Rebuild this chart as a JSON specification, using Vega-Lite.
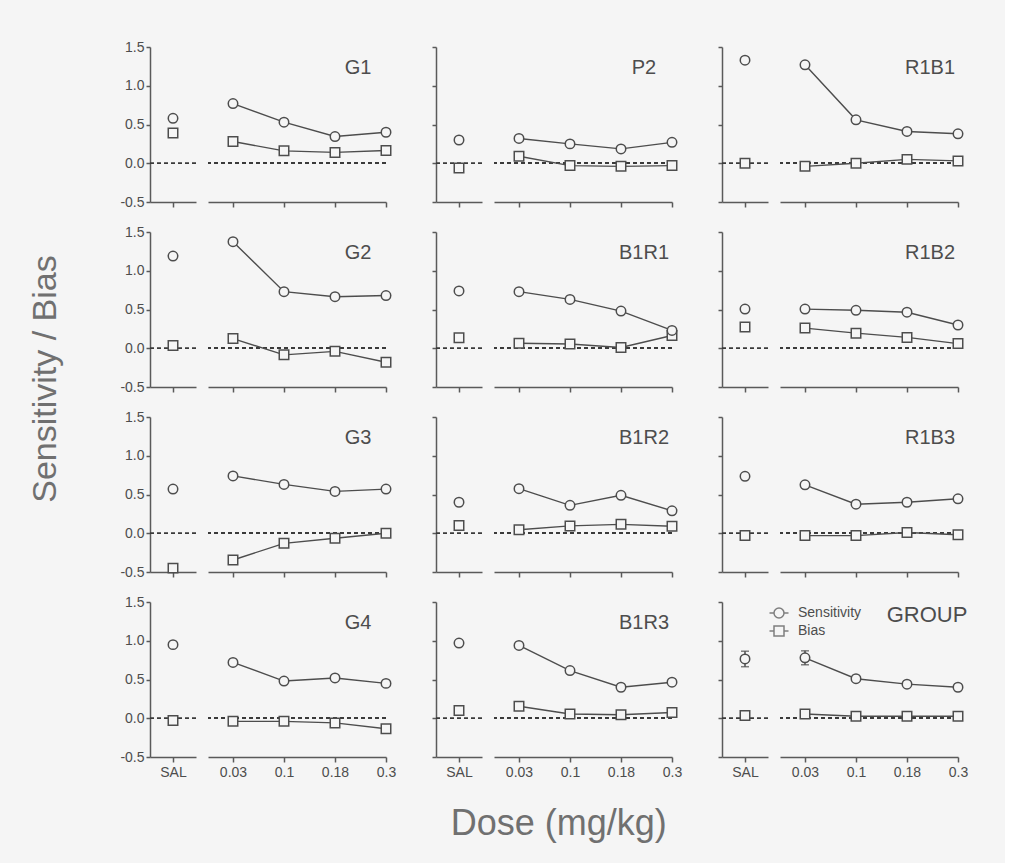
{
  "$schema": "https://vega.github.io/schema/vega-lite/v6.json",
  "background": "#f5f5f5",
  "padding": {"left": 28, "top": 40, "right": 37, "bottom": 22},
  "config": {
    "font": "Liberation Sans",
    "view": {"stroke": null},
    "axis": {"domainColor": "#5a5a5a", "tickColor": "#5a5a5a", "domainWidth": 1.5, "tickWidth": 1.5, "labelColor": "#4d4d4d", "grid": false, "labelOverlap": false},
    "axisX": {"tickSize": 5, "labelFontSize": 14, "labelPadding": 3, "labelAngle": 0},
    "axisY": {"tickSize": 4, "labelFontSize": 14, "labelPadding": 2, "tickCount": 10},
    "title": {"color": "#707070", "fontWeight": "normal"}
  },
  "datasets": {
    "sdt": [
      {"panel": "G1", "dose": "SAL", "measure": "Sensitivity", "value": 0.58},
      {"panel": "G1", "dose": "SAL", "measure": "Bias", "value": 0.39},
      {"panel": "G1", "dose": "0.03", "measure": "Sensitivity", "value": 0.77},
      {"panel": "G1", "dose": "0.03", "measure": "Bias", "value": 0.28},
      {"panel": "G1", "dose": "0.1", "measure": "Sensitivity", "value": 0.53},
      {"panel": "G1", "dose": "0.1", "measure": "Bias", "value": 0.16},
      {"panel": "G1", "dose": "0.18", "measure": "Sensitivity", "value": 0.345},
      {"panel": "G1", "dose": "0.18", "measure": "Bias", "value": 0.14},
      {"panel": "G1", "dose": "0.3", "measure": "Sensitivity", "value": 0.4},
      {"panel": "G1", "dose": "0.3", "measure": "Bias", "value": 0.165},

      {"panel": "P2", "dose": "SAL", "measure": "Sensitivity", "value": 0.3},
      {"panel": "P2", "dose": "SAL", "measure": "Bias", "value": -0.06},
      {"panel": "P2", "dose": "0.03", "measure": "Sensitivity", "value": 0.32},
      {"panel": "P2", "dose": "0.03", "measure": "Bias", "value": 0.09},
      {"panel": "P2", "dose": "0.1", "measure": "Sensitivity", "value": 0.25},
      {"panel": "P2", "dose": "0.1", "measure": "Bias", "value": -0.03},
      {"panel": "P2", "dose": "0.18", "measure": "Sensitivity", "value": 0.185},
      {"panel": "P2", "dose": "0.18", "measure": "Bias", "value": -0.04},
      {"panel": "P2", "dose": "0.3", "measure": "Sensitivity", "value": 0.27},
      {"panel": "P2", "dose": "0.3", "measure": "Bias", "value": -0.03},

      {"panel": "R1B1", "dose": "SAL", "measure": "Sensitivity", "value": 1.33},
      {"panel": "R1B1", "dose": "SAL", "measure": "Bias", "value": 0.0},
      {"panel": "R1B1", "dose": "0.03", "measure": "Sensitivity", "value": 1.27},
      {"panel": "R1B1", "dose": "0.03", "measure": "Bias", "value": -0.04},
      {"panel": "R1B1", "dose": "0.1", "measure": "Sensitivity", "value": 0.56},
      {"panel": "R1B1", "dose": "0.1", "measure": "Bias", "value": 0.0},
      {"panel": "R1B1", "dose": "0.18", "measure": "Sensitivity", "value": 0.41},
      {"panel": "R1B1", "dose": "0.18", "measure": "Bias", "value": 0.05},
      {"panel": "R1B1", "dose": "0.3", "measure": "Sensitivity", "value": 0.38},
      {"panel": "R1B1", "dose": "0.3", "measure": "Bias", "value": 0.03},

      {"panel": "G2", "dose": "SAL", "measure": "Sensitivity", "value": 1.19},
      {"panel": "G2", "dose": "SAL", "measure": "Bias", "value": 0.035},
      {"panel": "G2", "dose": "0.03", "measure": "Sensitivity", "value": 1.375},
      {"panel": "G2", "dose": "0.03", "measure": "Bias", "value": 0.125},
      {"panel": "G2", "dose": "0.1", "measure": "Sensitivity", "value": 0.73},
      {"panel": "G2", "dose": "0.1", "measure": "Bias", "value": -0.085},
      {"panel": "G2", "dose": "0.18", "measure": "Sensitivity", "value": 0.665},
      {"panel": "G2", "dose": "0.18", "measure": "Bias", "value": -0.04},
      {"panel": "G2", "dose": "0.3", "measure": "Sensitivity", "value": 0.68},
      {"panel": "G2", "dose": "0.3", "measure": "Bias", "value": -0.18},

      {"panel": "B1R1", "dose": "SAL", "measure": "Sensitivity", "value": 0.74},
      {"panel": "B1R1", "dose": "SAL", "measure": "Bias", "value": 0.135},
      {"panel": "B1R1", "dose": "0.03", "measure": "Sensitivity", "value": 0.73},
      {"panel": "B1R1", "dose": "0.03", "measure": "Bias", "value": 0.065},
      {"panel": "B1R1", "dose": "0.1", "measure": "Sensitivity", "value": 0.63},
      {"panel": "B1R1", "dose": "0.1", "measure": "Bias", "value": 0.055},
      {"panel": "B1R1", "dose": "0.18", "measure": "Sensitivity", "value": 0.48},
      {"panel": "B1R1", "dose": "0.18", "measure": "Bias", "value": 0.01},
      {"panel": "B1R1", "dose": "0.3", "measure": "Sensitivity", "value": 0.23},
      {"panel": "B1R1", "dose": "0.3", "measure": "Bias", "value": 0.165},

      {"panel": "R1B2", "dose": "SAL", "measure": "Sensitivity", "value": 0.505},
      {"panel": "R1B2", "dose": "SAL", "measure": "Bias", "value": 0.275},
      {"panel": "R1B2", "dose": "0.03", "measure": "Sensitivity", "value": 0.505},
      {"panel": "R1B2", "dose": "0.03", "measure": "Bias", "value": 0.26},
      {"panel": "R1B2", "dose": "0.1", "measure": "Sensitivity", "value": 0.49},
      {"panel": "R1B2", "dose": "0.1", "measure": "Bias", "value": 0.195},
      {"panel": "R1B2", "dose": "0.18", "measure": "Sensitivity", "value": 0.465},
      {"panel": "R1B2", "dose": "0.18", "measure": "Bias", "value": 0.14},
      {"panel": "R1B2", "dose": "0.3", "measure": "Sensitivity", "value": 0.3},
      {"panel": "R1B2", "dose": "0.3", "measure": "Bias", "value": 0.06},

      {"panel": "G3", "dose": "SAL", "measure": "Sensitivity", "value": 0.57},
      {"panel": "G3", "dose": "SAL", "measure": "Bias", "value": -0.45},
      {"panel": "G3", "dose": "0.03", "measure": "Sensitivity", "value": 0.74},
      {"panel": "G3", "dose": "0.03", "measure": "Bias", "value": -0.345},
      {"panel": "G3", "dose": "0.1", "measure": "Sensitivity", "value": 0.63},
      {"panel": "G3", "dose": "0.1", "measure": "Bias", "value": -0.13},
      {"panel": "G3", "dose": "0.18", "measure": "Sensitivity", "value": 0.54},
      {"panel": "G3", "dose": "0.18", "measure": "Bias", "value": -0.065},
      {"panel": "G3", "dose": "0.3", "measure": "Sensitivity", "value": 0.57},
      {"panel": "G3", "dose": "0.3", "measure": "Bias", "value": 0.0},

      {"panel": "B1R2", "dose": "SAL", "measure": "Sensitivity", "value": 0.4},
      {"panel": "B1R2", "dose": "SAL", "measure": "Bias", "value": 0.1},
      {"panel": "B1R2", "dose": "0.03", "measure": "Sensitivity", "value": 0.575},
      {"panel": "B1R2", "dose": "0.03", "measure": "Bias", "value": 0.045},
      {"panel": "B1R2", "dose": "0.1", "measure": "Sensitivity", "value": 0.36},
      {"panel": "B1R2", "dose": "0.1", "measure": "Bias", "value": 0.095},
      {"panel": "B1R2", "dose": "0.18", "measure": "Sensitivity", "value": 0.49},
      {"panel": "B1R2", "dose": "0.18", "measure": "Bias", "value": 0.115},
      {"panel": "B1R2", "dose": "0.3", "measure": "Sensitivity", "value": 0.29},
      {"panel": "B1R2", "dose": "0.3", "measure": "Bias", "value": 0.09},

      {"panel": "R1B3", "dose": "SAL", "measure": "Sensitivity", "value": 0.735},
      {"panel": "R1B3", "dose": "SAL", "measure": "Bias", "value": -0.03},
      {"panel": "R1B3", "dose": "0.03", "measure": "Sensitivity", "value": 0.625},
      {"panel": "R1B3", "dose": "0.03", "measure": "Bias", "value": -0.03},
      {"panel": "R1B3", "dose": "0.1", "measure": "Sensitivity", "value": 0.375},
      {"panel": "R1B3", "dose": "0.1", "measure": "Bias", "value": -0.03},
      {"panel": "R1B3", "dose": "0.18", "measure": "Sensitivity", "value": 0.4},
      {"panel": "R1B3", "dose": "0.18", "measure": "Bias", "value": 0.01},
      {"panel": "R1B3", "dose": "0.3", "measure": "Sensitivity", "value": 0.445},
      {"panel": "R1B3", "dose": "0.3", "measure": "Bias", "value": -0.02},

      {"panel": "G4", "dose": "SAL", "measure": "Sensitivity", "value": 0.95},
      {"panel": "G4", "dose": "SAL", "measure": "Bias", "value": -0.03},
      {"panel": "G4", "dose": "0.03", "measure": "Sensitivity", "value": 0.72},
      {"panel": "G4", "dose": "0.03", "measure": "Bias", "value": -0.04},
      {"panel": "G4", "dose": "0.1", "measure": "Sensitivity", "value": 0.48},
      {"panel": "G4", "dose": "0.1", "measure": "Bias", "value": -0.04},
      {"panel": "G4", "dose": "0.18", "measure": "Sensitivity", "value": 0.52},
      {"panel": "G4", "dose": "0.18", "measure": "Bias", "value": -0.06},
      {"panel": "G4", "dose": "0.3", "measure": "Sensitivity", "value": 0.45},
      {"panel": "G4", "dose": "0.3", "measure": "Bias", "value": -0.135},

      {"panel": "B1R3", "dose": "SAL", "measure": "Sensitivity", "value": 0.97},
      {"panel": "B1R3", "dose": "SAL", "measure": "Bias", "value": 0.1},
      {"panel": "B1R3", "dose": "0.03", "measure": "Sensitivity", "value": 0.94},
      {"panel": "B1R3", "dose": "0.03", "measure": "Bias", "value": 0.155},
      {"panel": "B1R3", "dose": "0.1", "measure": "Sensitivity", "value": 0.615},
      {"panel": "B1R3", "dose": "0.1", "measure": "Bias", "value": 0.055},
      {"panel": "B1R3", "dose": "0.18", "measure": "Sensitivity", "value": 0.4},
      {"panel": "B1R3", "dose": "0.18", "measure": "Bias", "value": 0.045},
      {"panel": "B1R3", "dose": "0.3", "measure": "Sensitivity", "value": 0.465},
      {"panel": "B1R3", "dose": "0.3", "measure": "Bias", "value": 0.075},

      {"panel": "GROUP", "dose": "SAL", "measure": "Sensitivity", "value": 0.765, "err": 0.1},
      {"panel": "GROUP", "dose": "SAL", "measure": "Bias", "value": 0.035},
      {"panel": "GROUP", "dose": "0.03", "measure": "Sensitivity", "value": 0.78, "err": 0.09},
      {"panel": "GROUP", "dose": "0.03", "measure": "Bias", "value": 0.055},
      {"panel": "GROUP", "dose": "0.1", "measure": "Sensitivity", "value": 0.51},
      {"panel": "GROUP", "dose": "0.1", "measure": "Bias", "value": 0.025},
      {"panel": "GROUP", "dose": "0.18", "measure": "Sensitivity", "value": 0.44},
      {"panel": "GROUP", "dose": "0.18", "measure": "Bias", "value": 0.025},
      {"panel": "GROUP", "dose": "0.3", "measure": "Sensitivity", "value": 0.4},
      {"panel": "GROUP", "dose": "0.3", "measure": "Bias", "value": 0.025}
    ]
  },
  "title": {"text": "Sensitivity / Bias", "orient": "left", "anchor": "middle", "fontSize": 34, "offset": 57, "dx": 62},
  "resolve": {"scale": {"shape": "independent"}, "legend": {"shape": "independent"}},
  "vconcat": [
    {
      "title": {"text": "Dose (mg/kg)", "orient": "bottom", "anchor": "middle", "fontSize": 36, "offset": 28, "dx": 15},
      "columns": 3,
      "spacing": {"row": 16, "column": 35},
      "resolve": {"scale": {"shape": "independent"}, "legend": {"shape": "independent"}},
      "concat": [
        {
          "spacing": 12, "bounds": "flush",
          "resolve": {"scale": {"shape": "independent"}, "legend": {"shape": "independent"}},
          "hconcat": [
            {
              "width": 46, "height": 155, "data": {"name": "sdt"},
              "transform": [{"filter": "datum.panel === 'G1' && datum.dose === 'SAL'"}],
              "layer": [
                {"mark": {"type": "rule", "strokeDash": [4, 3], "color": "#3a3a3a", "strokeWidth": 1.3}, "encoding": {"y": {"datum": 0, "type": "quantitative", "scale": {"domain": [-0.5, 1.5], "nice": false, "zero": false}, "axis": {"values": [-0.5, 0, 0.5, 1, 1.5], "tickCount": 10, "labelExpr": "replace(format(datum.value, '.1f'), '\u2212', '-')", "title": null, "labels": true}}}},
                {"mark": {"type": "point", "shape": "square", "size": 90, "filled": true, "fill": "#f5f5f5", "stroke": "#4d4d4d", "strokeWidth": 1.5, "opacity": 1}, "transform": [{"filter": "datum.measure === 'Bias'"}], "encoding": {"x": {"field": "dose", "type": "ordinal", "scale": {"type": "point", "domain": ["SAL"]}, "axis": {"title": null, "labels": false}}, "y": {"field": "value", "type": "quantitative"}}},
                {"mark": {"type": "point", "shape": "circle", "size": 90, "filled": true, "fill": "#f5f5f5", "stroke": "#4d4d4d", "strokeWidth": 1.5, "opacity": 1}, "transform": [{"filter": "datum.measure === 'Sensitivity'"}], "encoding": {"x": {"field": "dose", "type": "ordinal"}, "y": {"field": "value", "type": "quantitative"}}}
              ]
            },
            {
              "width": 178, "height": 155, "data": {"name": "sdt"},
              "transform": [{"filter": "datum.panel === 'G1' && datum.dose !== 'SAL'"}],
              "layer": [
                {"mark": {"type": "rule", "strokeDash": [4, 3], "color": "#3a3a3a", "strokeWidth": 1.3}, "encoding": {"y": {"datum": 0, "type": "quantitative", "scale": {"domain": [-0.5, 1.5], "nice": false, "zero": false}, "axis": null}}},
                {"mark": {"type": "line", "color": "#4d4d4d", "strokeWidth": 1.4}, "encoding": {"x": {"field": "dose", "type": "ordinal", "scale": {"type": "point", "domain": ["0.03", "0.1", "0.18", "0.3"], "padding": 0.245, "align": 1}, "axis": {"title": null, "labels": false}}, "y": {"field": "value", "type": "quantitative"}, "detail": {"field": "measure"}}},
                {"mark": {"type": "point", "shape": "square", "size": 90, "filled": true, "fill": "#f5f5f5", "stroke": "#4d4d4d", "strokeWidth": 1.5, "opacity": 1}, "transform": [{"filter": "datum.measure === 'Bias'"}], "encoding": {"x": {"field": "dose", "type": "ordinal"}, "y": {"field": "value", "type": "quantitative"}}},
                {"mark": {"type": "point", "shape": "circle", "size": 90, "filled": true, "fill": "#f5f5f5", "stroke": "#4d4d4d", "strokeWidth": 1.5, "opacity": 1}, "transform": [{"filter": "datum.measure === 'Sensitivity'"}], "encoding": {"x": {"field": "dose", "type": "ordinal"}, "y": {"field": "value", "type": "quantitative"}}},
                {"mark": {"type": "text", "fontSize": 20, "color": "#4d4d4d", "dx": -28, "align": "center", "baseline": "alphabetic"}, "transform": [{"filter": "datum.measure === 'Sensitivity' && datum.dose === '0.3'"}], "encoding": {"x": {"field": "dose", "type": "ordinal"}, "y": {"datum": 1.15}, "text": {"field": "panel"}}}
              ]
            }
          ]
        },
        {
          "spacing": 12, "bounds": "flush",
          "resolve": {"scale": {"shape": "independent"}, "legend": {"shape": "independent"}},
          "hconcat": [
            {
              "width": 46, "height": 155, "data": {"name": "sdt"},
              "transform": [{"filter": "datum.panel === 'P2' && datum.dose === 'SAL'"}],
              "layer": [
                {"mark": {"type": "rule", "strokeDash": [4, 3], "color": "#3a3a3a", "strokeWidth": 1.3}, "encoding": {"y": {"datum": 0, "type": "quantitative", "scale": {"domain": [-0.5, 1.5], "nice": false, "zero": false}, "axis": {"values": [-0.5, 0, 0.5, 1, 1.5], "tickCount": 10, "title": null, "labels": false}}}},
                {"mark": {"type": "point", "shape": "square", "size": 90, "filled": true, "fill": "#f5f5f5", "stroke": "#4d4d4d", "strokeWidth": 1.5, "opacity": 1}, "transform": [{"filter": "datum.measure === 'Bias'"}], "encoding": {"x": {"field": "dose", "type": "ordinal", "scale": {"type": "point", "domain": ["SAL"]}, "axis": {"title": null, "labels": false}}, "y": {"field": "value", "type": "quantitative"}}},
                {"mark": {"type": "point", "shape": "circle", "size": 90, "filled": true, "fill": "#f5f5f5", "stroke": "#4d4d4d", "strokeWidth": 1.5, "opacity": 1}, "transform": [{"filter": "datum.measure === 'Sensitivity'"}], "encoding": {"x": {"field": "dose", "type": "ordinal"}, "y": {"field": "value", "type": "quantitative"}}}
              ]
            },
            {
              "width": 178, "height": 155, "data": {"name": "sdt"},
              "transform": [{"filter": "datum.panel === 'P2' && datum.dose !== 'SAL'"}],
              "layer": [
                {"mark": {"type": "rule", "strokeDash": [4, 3], "color": "#3a3a3a", "strokeWidth": 1.3}, "encoding": {"y": {"datum": 0, "type": "quantitative", "scale": {"domain": [-0.5, 1.5], "nice": false, "zero": false}, "axis": null}}},
                {"mark": {"type": "line", "color": "#4d4d4d", "strokeWidth": 1.4}, "encoding": {"x": {"field": "dose", "type": "ordinal", "scale": {"type": "point", "domain": ["0.03", "0.1", "0.18", "0.3"], "padding": 0.245, "align": 1}, "axis": {"title": null, "labels": false}}, "y": {"field": "value", "type": "quantitative"}, "detail": {"field": "measure"}}},
                {"mark": {"type": "point", "shape": "square", "size": 90, "filled": true, "fill": "#f5f5f5", "stroke": "#4d4d4d", "strokeWidth": 1.5, "opacity": 1}, "transform": [{"filter": "datum.measure === 'Bias'"}], "encoding": {"x": {"field": "dose", "type": "ordinal"}, "y": {"field": "value", "type": "quantitative"}}},
                {"mark": {"type": "point", "shape": "circle", "size": 90, "filled": true, "fill": "#f5f5f5", "stroke": "#4d4d4d", "strokeWidth": 1.5, "opacity": 1}, "transform": [{"filter": "datum.measure === 'Sensitivity'"}], "encoding": {"x": {"field": "dose", "type": "ordinal"}, "y": {"field": "value", "type": "quantitative"}}},
                {"mark": {"type": "text", "fontSize": 20, "color": "#4d4d4d", "dx": -28, "align": "center", "baseline": "alphabetic"}, "transform": [{"filter": "datum.measure === 'Sensitivity' && datum.dose === '0.3'"}], "encoding": {"x": {"field": "dose", "type": "ordinal"}, "y": {"datum": 1.15}, "text": {"field": "panel"}}}
              ]
            }
          ]
        },
        {
          "spacing": 12, "bounds": "flush",
          "resolve": {"scale": {"shape": "independent"}, "legend": {"shape": "independent"}},
          "hconcat": [
            {
              "width": 46, "height": 155, "data": {"name": "sdt"},
              "transform": [{"filter": "datum.panel === 'R1B1' && datum.dose === 'SAL'"}],
              "layer": [
                {"mark": {"type": "rule", "strokeDash": [4, 3], "color": "#3a3a3a", "strokeWidth": 1.3}, "encoding": {"y": {"datum": 0, "type": "quantitative", "scale": {"domain": [-0.5, 1.5], "nice": false, "zero": false}, "axis": {"values": [-0.5, 0, 0.5, 1, 1.5], "tickCount": 10, "title": null, "labels": false}}}},
                {"mark": {"type": "point", "shape": "square", "size": 90, "filled": true, "fill": "#f5f5f5", "stroke": "#4d4d4d", "strokeWidth": 1.5, "opacity": 1}, "transform": [{"filter": "datum.measure === 'Bias'"}], "encoding": {"x": {"field": "dose", "type": "ordinal", "scale": {"type": "point", "domain": ["SAL"]}, "axis": {"title": null, "labels": false}}, "y": {"field": "value", "type": "quantitative"}}},
                {"mark": {"type": "point", "shape": "circle", "size": 90, "filled": true, "fill": "#f5f5f5", "stroke": "#4d4d4d", "strokeWidth": 1.5, "opacity": 1}, "transform": [{"filter": "datum.measure === 'Sensitivity'"}], "encoding": {"x": {"field": "dose", "type": "ordinal"}, "y": {"field": "value", "type": "quantitative"}}}
              ]
            },
            {
              "width": 178, "height": 155, "data": {"name": "sdt"},
              "transform": [{"filter": "datum.panel === 'R1B1' && datum.dose !== 'SAL'"}],
              "layer": [
                {"mark": {"type": "rule", "strokeDash": [4, 3], "color": "#3a3a3a", "strokeWidth": 1.3}, "encoding": {"y": {"datum": 0, "type": "quantitative", "scale": {"domain": [-0.5, 1.5], "nice": false, "zero": false}, "axis": null}}},
                {"mark": {"type": "line", "color": "#4d4d4d", "strokeWidth": 1.4}, "encoding": {"x": {"field": "dose", "type": "ordinal", "scale": {"type": "point", "domain": ["0.03", "0.1", "0.18", "0.3"], "padding": 0.245, "align": 1}, "axis": {"title": null, "labels": false}}, "y": {"field": "value", "type": "quantitative"}, "detail": {"field": "measure"}}},
                {"mark": {"type": "point", "shape": "square", "size": 90, "filled": true, "fill": "#f5f5f5", "stroke": "#4d4d4d", "strokeWidth": 1.5, "opacity": 1}, "transform": [{"filter": "datum.measure === 'Bias'"}], "encoding": {"x": {"field": "dose", "type": "ordinal"}, "y": {"field": "value", "type": "quantitative"}}},
                {"mark": {"type": "point", "shape": "circle", "size": 90, "filled": true, "fill": "#f5f5f5", "stroke": "#4d4d4d", "strokeWidth": 1.5, "opacity": 1}, "transform": [{"filter": "datum.measure === 'Sensitivity'"}], "encoding": {"x": {"field": "dose", "type": "ordinal"}, "y": {"field": "value", "type": "quantitative"}}},
                {"mark": {"type": "text", "fontSize": 20, "color": "#4d4d4d", "dx": -28, "align": "center", "baseline": "alphabetic"}, "transform": [{"filter": "datum.measure === 'Sensitivity' && datum.dose === '0.3'"}], "encoding": {"x": {"field": "dose", "type": "ordinal"}, "y": {"datum": 1.15}, "text": {"field": "panel"}}}
              ]
            }
          ]
        },
        {
          "spacing": 12, "bounds": "flush",
          "resolve": {"scale": {"shape": "independent"}, "legend": {"shape": "independent"}},
          "hconcat": [
            {
              "width": 46, "height": 155, "data": {"name": "sdt"},
              "transform": [{"filter": "datum.panel === 'G2' && datum.dose === 'SAL'"}],
              "layer": [
                {"mark": {"type": "rule", "strokeDash": [4, 3], "color": "#3a3a3a", "strokeWidth": 1.3}, "encoding": {"y": {"datum": 0, "type": "quantitative", "scale": {"domain": [-0.5, 1.5], "nice": false, "zero": false}, "axis": {"values": [-0.5, 0, 0.5, 1, 1.5], "tickCount": 10, "labelExpr": "replace(format(datum.value, '.1f'), '\u2212', '-')", "title": null, "labels": true}}}},
                {"mark": {"type": "point", "shape": "square", "size": 90, "filled": true, "fill": "#f5f5f5", "stroke": "#4d4d4d", "strokeWidth": 1.5, "opacity": 1}, "transform": [{"filter": "datum.measure === 'Bias'"}], "encoding": {"x": {"field": "dose", "type": "ordinal", "scale": {"type": "point", "domain": ["SAL"]}, "axis": {"title": null, "labels": false}}, "y": {"field": "value", "type": "quantitative"}}},
                {"mark": {"type": "point", "shape": "circle", "size": 90, "filled": true, "fill": "#f5f5f5", "stroke": "#4d4d4d", "strokeWidth": 1.5, "opacity": 1}, "transform": [{"filter": "datum.measure === 'Sensitivity'"}], "encoding": {"x": {"field": "dose", "type": "ordinal"}, "y": {"field": "value", "type": "quantitative"}}}
              ]
            },
            {
              "width": 178, "height": 155, "data": {"name": "sdt"},
              "transform": [{"filter": "datum.panel === 'G2' && datum.dose !== 'SAL'"}],
              "layer": [
                {"mark": {"type": "rule", "strokeDash": [4, 3], "color": "#3a3a3a", "strokeWidth": 1.3}, "encoding": {"y": {"datum": 0, "type": "quantitative", "scale": {"domain": [-0.5, 1.5], "nice": false, "zero": false}, "axis": null}}},
                {"mark": {"type": "line", "color": "#4d4d4d", "strokeWidth": 1.4}, "encoding": {"x": {"field": "dose", "type": "ordinal", "scale": {"type": "point", "domain": ["0.03", "0.1", "0.18", "0.3"], "padding": 0.245, "align": 1}, "axis": {"title": null, "labels": false}}, "y": {"field": "value", "type": "quantitative"}, "detail": {"field": "measure"}}},
                {"mark": {"type": "point", "shape": "square", "size": 90, "filled": true, "fill": "#f5f5f5", "stroke": "#4d4d4d", "strokeWidth": 1.5, "opacity": 1}, "transform": [{"filter": "datum.measure === 'Bias'"}], "encoding": {"x": {"field": "dose", "type": "ordinal"}, "y": {"field": "value", "type": "quantitative"}}},
                {"mark": {"type": "point", "shape": "circle", "size": 90, "filled": true, "fill": "#f5f5f5", "stroke": "#4d4d4d", "strokeWidth": 1.5, "opacity": 1}, "transform": [{"filter": "datum.measure === 'Sensitivity'"}], "encoding": {"x": {"field": "dose", "type": "ordinal"}, "y": {"field": "value", "type": "quantitative"}}},
                {"mark": {"type": "text", "fontSize": 20, "color": "#4d4d4d", "dx": -28, "align": "center", "baseline": "alphabetic"}, "transform": [{"filter": "datum.measure === 'Sensitivity' && datum.dose === '0.3'"}], "encoding": {"x": {"field": "dose", "type": "ordinal"}, "y": {"datum": 1.15}, "text": {"field": "panel"}}}
              ]
            }
          ]
        },
        {
          "spacing": 12, "bounds": "flush",
          "resolve": {"scale": {"shape": "independent"}, "legend": {"shape": "independent"}},
          "hconcat": [
            {
              "width": 46, "height": 155, "data": {"name": "sdt"},
              "transform": [{"filter": "datum.panel === 'B1R1' && datum.dose === 'SAL'"}],
              "layer": [
                {"mark": {"type": "rule", "strokeDash": [4, 3], "color": "#3a3a3a", "strokeWidth": 1.3}, "encoding": {"y": {"datum": 0, "type": "quantitative", "scale": {"domain": [-0.5, 1.5], "nice": false, "zero": false}, "axis": {"values": [-0.5, 0, 0.5, 1, 1.5], "tickCount": 10, "title": null, "labels": false}}}},
                {"mark": {"type": "point", "shape": "square", "size": 90, "filled": true, "fill": "#f5f5f5", "stroke": "#4d4d4d", "strokeWidth": 1.5, "opacity": 1}, "transform": [{"filter": "datum.measure === 'Bias'"}], "encoding": {"x": {"field": "dose", "type": "ordinal", "scale": {"type": "point", "domain": ["SAL"]}, "axis": {"title": null, "labels": false}}, "y": {"field": "value", "type": "quantitative"}}},
                {"mark": {"type": "point", "shape": "circle", "size": 90, "filled": true, "fill": "#f5f5f5", "stroke": "#4d4d4d", "strokeWidth": 1.5, "opacity": 1}, "transform": [{"filter": "datum.measure === 'Sensitivity'"}], "encoding": {"x": {"field": "dose", "type": "ordinal"}, "y": {"field": "value", "type": "quantitative"}}}
              ]
            },
            {
              "width": 178, "height": 155, "data": {"name": "sdt"},
              "transform": [{"filter": "datum.panel === 'B1R1' && datum.dose !== 'SAL'"}],
              "layer": [
                {"mark": {"type": "rule", "strokeDash": [4, 3], "color": "#3a3a3a", "strokeWidth": 1.3}, "encoding": {"y": {"datum": 0, "type": "quantitative", "scale": {"domain": [-0.5, 1.5], "nice": false, "zero": false}, "axis": null}}},
                {"mark": {"type": "line", "color": "#4d4d4d", "strokeWidth": 1.4}, "encoding": {"x": {"field": "dose", "type": "ordinal", "scale": {"type": "point", "domain": ["0.03", "0.1", "0.18", "0.3"], "padding": 0.245, "align": 1}, "axis": {"title": null, "labels": false}}, "y": {"field": "value", "type": "quantitative"}, "detail": {"field": "measure"}}},
                {"mark": {"type": "point", "shape": "square", "size": 90, "filled": true, "fill": "#f5f5f5", "stroke": "#4d4d4d", "strokeWidth": 1.5, "opacity": 1}, "transform": [{"filter": "datum.measure === 'Bias'"}], "encoding": {"x": {"field": "dose", "type": "ordinal"}, "y": {"field": "value", "type": "quantitative"}}},
                {"mark": {"type": "point", "shape": "circle", "size": 90, "filled": true, "fill": "#f5f5f5", "stroke": "#4d4d4d", "strokeWidth": 1.5, "opacity": 1}, "transform": [{"filter": "datum.measure === 'Sensitivity'"}], "encoding": {"x": {"field": "dose", "type": "ordinal"}, "y": {"field": "value", "type": "quantitative"}}},
                {"mark": {"type": "text", "fontSize": 20, "color": "#4d4d4d", "dx": -28, "align": "center", "baseline": "alphabetic"}, "transform": [{"filter": "datum.measure === 'Sensitivity' && datum.dose === '0.3'"}], "encoding": {"x": {"field": "dose", "type": "ordinal"}, "y": {"datum": 1.15}, "text": {"field": "panel"}}}
              ]
            }
          ]
        },
        {
          "spacing": 12, "bounds": "flush",
          "resolve": {"scale": {"shape": "independent"}, "legend": {"shape": "independent"}},
          "hconcat": [
            {
              "width": 46, "height": 155, "data": {"name": "sdt"},
              "transform": [{"filter": "datum.panel === 'R1B2' && datum.dose === 'SAL'"}],
              "layer": [
                {"mark": {"type": "rule", "strokeDash": [4, 3], "color": "#3a3a3a", "strokeWidth": 1.3}, "encoding": {"y": {"datum": 0, "type": "quantitative", "scale": {"domain": [-0.5, 1.5], "nice": false, "zero": false}, "axis": {"values": [-0.5, 0, 0.5, 1, 1.5], "tickCount": 10, "title": null, "labels": false}}}},
                {"mark": {"type": "point", "shape": "square", "size": 90, "filled": true, "fill": "#f5f5f5", "stroke": "#4d4d4d", "strokeWidth": 1.5, "opacity": 1}, "transform": [{"filter": "datum.measure === 'Bias'"}], "encoding": {"x": {"field": "dose", "type": "ordinal", "scale": {"type": "point", "domain": ["SAL"]}, "axis": {"title": null, "labels": false}}, "y": {"field": "value", "type": "quantitative"}}},
                {"mark": {"type": "point", "shape": "circle", "size": 90, "filled": true, "fill": "#f5f5f5", "stroke": "#4d4d4d", "strokeWidth": 1.5, "opacity": 1}, "transform": [{"filter": "datum.measure === 'Sensitivity'"}], "encoding": {"x": {"field": "dose", "type": "ordinal"}, "y": {"field": "value", "type": "quantitative"}}}
              ]
            },
            {
              "width": 178, "height": 155, "data": {"name": "sdt"},
              "transform": [{"filter": "datum.panel === 'R1B2' && datum.dose !== 'SAL'"}],
              "layer": [
                {"mark": {"type": "rule", "strokeDash": [4, 3], "color": "#3a3a3a", "strokeWidth": 1.3}, "encoding": {"y": {"datum": 0, "type": "quantitative", "scale": {"domain": [-0.5, 1.5], "nice": false, "zero": false}, "axis": null}}},
                {"mark": {"type": "line", "color": "#4d4d4d", "strokeWidth": 1.4}, "encoding": {"x": {"field": "dose", "type": "ordinal", "scale": {"type": "point", "domain": ["0.03", "0.1", "0.18", "0.3"], "padding": 0.245, "align": 1}, "axis": {"title": null, "labels": false}}, "y": {"field": "value", "type": "quantitative"}, "detail": {"field": "measure"}}},
                {"mark": {"type": "point", "shape": "square", "size": 90, "filled": true, "fill": "#f5f5f5", "stroke": "#4d4d4d", "strokeWidth": 1.5, "opacity": 1}, "transform": [{"filter": "datum.measure === 'Bias'"}], "encoding": {"x": {"field": "dose", "type": "ordinal"}, "y": {"field": "value", "type": "quantitative"}}},
                {"mark": {"type": "point", "shape": "circle", "size": 90, "filled": true, "fill": "#f5f5f5", "stroke": "#4d4d4d", "strokeWidth": 1.5, "opacity": 1}, "transform": [{"filter": "datum.measure === 'Sensitivity'"}], "encoding": {"x": {"field": "dose", "type": "ordinal"}, "y": {"field": "value", "type": "quantitative"}}},
                {"mark": {"type": "text", "fontSize": 20, "color": "#4d4d4d", "dx": -28, "align": "center", "baseline": "alphabetic"}, "transform": [{"filter": "datum.measure === 'Sensitivity' && datum.dose === '0.3'"}], "encoding": {"x": {"field": "dose", "type": "ordinal"}, "y": {"datum": 1.15}, "text": {"field": "panel"}}}
              ]
            }
          ]
        },
        {
          "spacing": 12, "bounds": "flush",
          "resolve": {"scale": {"shape": "independent"}, "legend": {"shape": "independent"}},
          "hconcat": [
            {
              "width": 46, "height": 155, "data": {"name": "sdt"},
              "transform": [{"filter": "datum.panel === 'G3' && datum.dose === 'SAL'"}],
              "layer": [
                {"mark": {"type": "rule", "strokeDash": [4, 3], "color": "#3a3a3a", "strokeWidth": 1.3}, "encoding": {"y": {"datum": 0, "type": "quantitative", "scale": {"domain": [-0.5, 1.5], "nice": false, "zero": false}, "axis": {"values": [-0.5, 0, 0.5, 1, 1.5], "tickCount": 10, "labelExpr": "replace(format(datum.value, '.1f'), '\u2212', '-')", "title": null, "labels": true}}}},
                {"mark": {"type": "point", "shape": "square", "size": 90, "filled": true, "fill": "#f5f5f5", "stroke": "#4d4d4d", "strokeWidth": 1.5, "opacity": 1}, "transform": [{"filter": "datum.measure === 'Bias'"}], "encoding": {"x": {"field": "dose", "type": "ordinal", "scale": {"type": "point", "domain": ["SAL"]}, "axis": {"title": null, "labels": false}}, "y": {"field": "value", "type": "quantitative"}}},
                {"mark": {"type": "point", "shape": "circle", "size": 90, "filled": true, "fill": "#f5f5f5", "stroke": "#4d4d4d", "strokeWidth": 1.5, "opacity": 1}, "transform": [{"filter": "datum.measure === 'Sensitivity'"}], "encoding": {"x": {"field": "dose", "type": "ordinal"}, "y": {"field": "value", "type": "quantitative"}}}
              ]
            },
            {
              "width": 178, "height": 155, "data": {"name": "sdt"},
              "transform": [{"filter": "datum.panel === 'G3' && datum.dose !== 'SAL'"}],
              "layer": [
                {"mark": {"type": "rule", "strokeDash": [4, 3], "color": "#3a3a3a", "strokeWidth": 1.3}, "encoding": {"y": {"datum": 0, "type": "quantitative", "scale": {"domain": [-0.5, 1.5], "nice": false, "zero": false}, "axis": null}}},
                {"mark": {"type": "line", "color": "#4d4d4d", "strokeWidth": 1.4}, "encoding": {"x": {"field": "dose", "type": "ordinal", "scale": {"type": "point", "domain": ["0.03", "0.1", "0.18", "0.3"], "padding": 0.245, "align": 1}, "axis": {"title": null, "labels": false}}, "y": {"field": "value", "type": "quantitative"}, "detail": {"field": "measure"}}},
                {"mark": {"type": "point", "shape": "square", "size": 90, "filled": true, "fill": "#f5f5f5", "stroke": "#4d4d4d", "strokeWidth": 1.5, "opacity": 1}, "transform": [{"filter": "datum.measure === 'Bias'"}], "encoding": {"x": {"field": "dose", "type": "ordinal"}, "y": {"field": "value", "type": "quantitative"}}},
                {"mark": {"type": "point", "shape": "circle", "size": 90, "filled": true, "fill": "#f5f5f5", "stroke": "#4d4d4d", "strokeWidth": 1.5, "opacity": 1}, "transform": [{"filter": "datum.measure === 'Sensitivity'"}], "encoding": {"x": {"field": "dose", "type": "ordinal"}, "y": {"field": "value", "type": "quantitative"}}},
                {"mark": {"type": "text", "fontSize": 20, "color": "#4d4d4d", "dx": -28, "align": "center", "baseline": "alphabetic"}, "transform": [{"filter": "datum.measure === 'Sensitivity' && datum.dose === '0.3'"}], "encoding": {"x": {"field": "dose", "type": "ordinal"}, "y": {"datum": 1.15}, "text": {"field": "panel"}}}
              ]
            }
          ]
        },
        {
          "spacing": 12, "bounds": "flush",
          "resolve": {"scale": {"shape": "independent"}, "legend": {"shape": "independent"}},
          "hconcat": [
            {
              "width": 46, "height": 155, "data": {"name": "sdt"},
              "transform": [{"filter": "datum.panel === 'B1R2' && datum.dose === 'SAL'"}],
              "layer": [
                {"mark": {"type": "rule", "strokeDash": [4, 3], "color": "#3a3a3a", "strokeWidth": 1.3}, "encoding": {"y": {"datum": 0, "type": "quantitative", "scale": {"domain": [-0.5, 1.5], "nice": false, "zero": false}, "axis": {"values": [-0.5, 0, 0.5, 1, 1.5], "tickCount": 10, "title": null, "labels": false}}}},
                {"mark": {"type": "point", "shape": "square", "size": 90, "filled": true, "fill": "#f5f5f5", "stroke": "#4d4d4d", "strokeWidth": 1.5, "opacity": 1}, "transform": [{"filter": "datum.measure === 'Bias'"}], "encoding": {"x": {"field": "dose", "type": "ordinal", "scale": {"type": "point", "domain": ["SAL"]}, "axis": {"title": null, "labels": false}}, "y": {"field": "value", "type": "quantitative"}}},
                {"mark": {"type": "point", "shape": "circle", "size": 90, "filled": true, "fill": "#f5f5f5", "stroke": "#4d4d4d", "strokeWidth": 1.5, "opacity": 1}, "transform": [{"filter": "datum.measure === 'Sensitivity'"}], "encoding": {"x": {"field": "dose", "type": "ordinal"}, "y": {"field": "value", "type": "quantitative"}}}
              ]
            },
            {
              "width": 178, "height": 155, "data": {"name": "sdt"},
              "transform": [{"filter": "datum.panel === 'B1R2' && datum.dose !== 'SAL'"}],
              "layer": [
                {"mark": {"type": "rule", "strokeDash": [4, 3], "color": "#3a3a3a", "strokeWidth": 1.3}, "encoding": {"y": {"datum": 0, "type": "quantitative", "scale": {"domain": [-0.5, 1.5], "nice": false, "zero": false}, "axis": null}}},
                {"mark": {"type": "line", "color": "#4d4d4d", "strokeWidth": 1.4}, "encoding": {"x": {"field": "dose", "type": "ordinal", "scale": {"type": "point", "domain": ["0.03", "0.1", "0.18", "0.3"], "padding": 0.245, "align": 1}, "axis": {"title": null, "labels": false}}, "y": {"field": "value", "type": "quantitative"}, "detail": {"field": "measure"}}},
                {"mark": {"type": "point", "shape": "square", "size": 90, "filled": true, "fill": "#f5f5f5", "stroke": "#4d4d4d", "strokeWidth": 1.5, "opacity": 1}, "transform": [{"filter": "datum.measure === 'Bias'"}], "encoding": {"x": {"field": "dose", "type": "ordinal"}, "y": {"field": "value", "type": "quantitative"}}},
                {"mark": {"type": "point", "shape": "circle", "size": 90, "filled": true, "fill": "#f5f5f5", "stroke": "#4d4d4d", "strokeWidth": 1.5, "opacity": 1}, "transform": [{"filter": "datum.measure === 'Sensitivity'"}], "encoding": {"x": {"field": "dose", "type": "ordinal"}, "y": {"field": "value", "type": "quantitative"}}},
                {"mark": {"type": "text", "fontSize": 20, "color": "#4d4d4d", "dx": -28, "align": "center", "baseline": "alphabetic"}, "transform": [{"filter": "datum.measure === 'Sensitivity' && datum.dose === '0.3'"}], "encoding": {"x": {"field": "dose", "type": "ordinal"}, "y": {"datum": 1.15}, "text": {"field": "panel"}}}
              ]
            }
          ]
        },
        {
          "spacing": 12, "bounds": "flush",
          "resolve": {"scale": {"shape": "independent"}, "legend": {"shape": "independent"}},
          "hconcat": [
            {
              "width": 46, "height": 155, "data": {"name": "sdt"},
              "transform": [{"filter": "datum.panel === 'R1B3' && datum.dose === 'SAL'"}],
              "layer": [
                {"mark": {"type": "rule", "strokeDash": [4, 3], "color": "#3a3a3a", "strokeWidth": 1.3}, "encoding": {"y": {"datum": 0, "type": "quantitative", "scale": {"domain": [-0.5, 1.5], "nice": false, "zero": false}, "axis": {"values": [-0.5, 0, 0.5, 1, 1.5], "tickCount": 10, "title": null, "labels": false}}}},
                {"mark": {"type": "point", "shape": "square", "size": 90, "filled": true, "fill": "#f5f5f5", "stroke": "#4d4d4d", "strokeWidth": 1.5, "opacity": 1}, "transform": [{"filter": "datum.measure === 'Bias'"}], "encoding": {"x": {"field": "dose", "type": "ordinal", "scale": {"type": "point", "domain": ["SAL"]}, "axis": {"title": null, "labels": false}}, "y": {"field": "value", "type": "quantitative"}}},
                {"mark": {"type": "point", "shape": "circle", "size": 90, "filled": true, "fill": "#f5f5f5", "stroke": "#4d4d4d", "strokeWidth": 1.5, "opacity": 1}, "transform": [{"filter": "datum.measure === 'Sensitivity'"}], "encoding": {"x": {"field": "dose", "type": "ordinal"}, "y": {"field": "value", "type": "quantitative"}}}
              ]
            },
            {
              "width": 178, "height": 155, "data": {"name": "sdt"},
              "transform": [{"filter": "datum.panel === 'R1B3' && datum.dose !== 'SAL'"}],
              "layer": [
                {"mark": {"type": "rule", "strokeDash": [4, 3], "color": "#3a3a3a", "strokeWidth": 1.3}, "encoding": {"y": {"datum": 0, "type": "quantitative", "scale": {"domain": [-0.5, 1.5], "nice": false, "zero": false}, "axis": null}}},
                {"mark": {"type": "line", "color": "#4d4d4d", "strokeWidth": 1.4}, "encoding": {"x": {"field": "dose", "type": "ordinal", "scale": {"type": "point", "domain": ["0.03", "0.1", "0.18", "0.3"], "padding": 0.245, "align": 1}, "axis": {"title": null, "labels": false}}, "y": {"field": "value", "type": "quantitative"}, "detail": {"field": "measure"}}},
                {"mark": {"type": "point", "shape": "square", "size": 90, "filled": true, "fill": "#f5f5f5", "stroke": "#4d4d4d", "strokeWidth": 1.5, "opacity": 1}, "transform": [{"filter": "datum.measure === 'Bias'"}], "encoding": {"x": {"field": "dose", "type": "ordinal"}, "y": {"field": "value", "type": "quantitative"}}},
                {"mark": {"type": "point", "shape": "circle", "size": 90, "filled": true, "fill": "#f5f5f5", "stroke": "#4d4d4d", "strokeWidth": 1.5, "opacity": 1}, "transform": [{"filter": "datum.measure === 'Sensitivity'"}], "encoding": {"x": {"field": "dose", "type": "ordinal"}, "y": {"field": "value", "type": "quantitative"}}},
                {"mark": {"type": "text", "fontSize": 20, "color": "#4d4d4d", "dx": -28, "align": "center", "baseline": "alphabetic"}, "transform": [{"filter": "datum.measure === 'Sensitivity' && datum.dose === '0.3'"}], "encoding": {"x": {"field": "dose", "type": "ordinal"}, "y": {"datum": 1.15}, "text": {"field": "panel"}}}
              ]
            }
          ]
        },
        {
          "spacing": 12, "bounds": "flush",
          "resolve": {"scale": {"shape": "independent"}, "legend": {"shape": "independent"}},
          "hconcat": [
            {
              "width": 46, "height": 155, "data": {"name": "sdt"},
              "transform": [{"filter": "datum.panel === 'G4' && datum.dose === 'SAL'"}],
              "layer": [
                {"mark": {"type": "rule", "strokeDash": [4, 3], "color": "#3a3a3a", "strokeWidth": 1.3}, "encoding": {"y": {"datum": 0, "type": "quantitative", "scale": {"domain": [-0.5, 1.5], "nice": false, "zero": false}, "axis": {"values": [-0.5, 0, 0.5, 1, 1.5], "tickCount": 10, "labelExpr": "replace(format(datum.value, '.1f'), '\u2212', '-')", "title": null, "labels": true}}}},
                {"mark": {"type": "point", "shape": "square", "size": 90, "filled": true, "fill": "#f5f5f5", "stroke": "#4d4d4d", "strokeWidth": 1.5, "opacity": 1}, "transform": [{"filter": "datum.measure === 'Bias'"}], "encoding": {"x": {"field": "dose", "type": "ordinal", "scale": {"type": "point", "domain": ["SAL"]}, "axis": {"title": null, "labels": true}}, "y": {"field": "value", "type": "quantitative"}}},
                {"mark": {"type": "point", "shape": "circle", "size": 90, "filled": true, "fill": "#f5f5f5", "stroke": "#4d4d4d", "strokeWidth": 1.5, "opacity": 1}, "transform": [{"filter": "datum.measure === 'Sensitivity'"}], "encoding": {"x": {"field": "dose", "type": "ordinal"}, "y": {"field": "value", "type": "quantitative"}}}
              ]
            },
            {
              "width": 178, "height": 155, "data": {"name": "sdt"},
              "transform": [{"filter": "datum.panel === 'G4' && datum.dose !== 'SAL'"}],
              "layer": [
                {"mark": {"type": "rule", "strokeDash": [4, 3], "color": "#3a3a3a", "strokeWidth": 1.3}, "encoding": {"y": {"datum": 0, "type": "quantitative", "scale": {"domain": [-0.5, 1.5], "nice": false, "zero": false}, "axis": null}}},
                {"mark": {"type": "line", "color": "#4d4d4d", "strokeWidth": 1.4}, "encoding": {"x": {"field": "dose", "type": "ordinal", "scale": {"type": "point", "domain": ["0.03", "0.1", "0.18", "0.3"], "padding": 0.245, "align": 1}, "axis": {"title": null, "labels": true}}, "y": {"field": "value", "type": "quantitative"}, "detail": {"field": "measure"}}},
                {"mark": {"type": "point", "shape": "square", "size": 90, "filled": true, "fill": "#f5f5f5", "stroke": "#4d4d4d", "strokeWidth": 1.5, "opacity": 1}, "transform": [{"filter": "datum.measure === 'Bias'"}], "encoding": {"x": {"field": "dose", "type": "ordinal"}, "y": {"field": "value", "type": "quantitative"}}},
                {"mark": {"type": "point", "shape": "circle", "size": 90, "filled": true, "fill": "#f5f5f5", "stroke": "#4d4d4d", "strokeWidth": 1.5, "opacity": 1}, "transform": [{"filter": "datum.measure === 'Sensitivity'"}], "encoding": {"x": {"field": "dose", "type": "ordinal"}, "y": {"field": "value", "type": "quantitative"}}},
                {"mark": {"type": "text", "fontSize": 20, "color": "#4d4d4d", "dx": -28, "align": "center", "baseline": "alphabetic"}, "transform": [{"filter": "datum.measure === 'Sensitivity' && datum.dose === '0.3'"}], "encoding": {"x": {"field": "dose", "type": "ordinal"}, "y": {"datum": 1.15}, "text": {"field": "panel"}}}
              ]
            }
          ]
        },
        {
          "spacing": 12, "bounds": "flush",
          "resolve": {"scale": {"shape": "independent"}, "legend": {"shape": "independent"}},
          "hconcat": [
            {
              "width": 46, "height": 155, "data": {"name": "sdt"},
              "transform": [{"filter": "datum.panel === 'B1R3' && datum.dose === 'SAL'"}],
              "layer": [
                {"mark": {"type": "rule", "strokeDash": [4, 3], "color": "#3a3a3a", "strokeWidth": 1.3}, "encoding": {"y": {"datum": 0, "type": "quantitative", "scale": {"domain": [-0.5, 1.5], "nice": false, "zero": false}, "axis": {"values": [-0.5, 0, 0.5, 1, 1.5], "tickCount": 10, "title": null, "labels": false}}}},
                {"mark": {"type": "point", "shape": "square", "size": 90, "filled": true, "fill": "#f5f5f5", "stroke": "#4d4d4d", "strokeWidth": 1.5, "opacity": 1}, "transform": [{"filter": "datum.measure === 'Bias'"}], "encoding": {"x": {"field": "dose", "type": "ordinal", "scale": {"type": "point", "domain": ["SAL"]}, "axis": {"title": null, "labels": true}}, "y": {"field": "value", "type": "quantitative"}}},
                {"mark": {"type": "point", "shape": "circle", "size": 90, "filled": true, "fill": "#f5f5f5", "stroke": "#4d4d4d", "strokeWidth": 1.5, "opacity": 1}, "transform": [{"filter": "datum.measure === 'Sensitivity'"}], "encoding": {"x": {"field": "dose", "type": "ordinal"}, "y": {"field": "value", "type": "quantitative"}}}
              ]
            },
            {
              "width": 178, "height": 155, "data": {"name": "sdt"},
              "transform": [{"filter": "datum.panel === 'B1R3' && datum.dose !== 'SAL'"}],
              "layer": [
                {"mark": {"type": "rule", "strokeDash": [4, 3], "color": "#3a3a3a", "strokeWidth": 1.3}, "encoding": {"y": {"datum": 0, "type": "quantitative", "scale": {"domain": [-0.5, 1.5], "nice": false, "zero": false}, "axis": null}}},
                {"mark": {"type": "line", "color": "#4d4d4d", "strokeWidth": 1.4}, "encoding": {"x": {"field": "dose", "type": "ordinal", "scale": {"type": "point", "domain": ["0.03", "0.1", "0.18", "0.3"], "padding": 0.245, "align": 1}, "axis": {"title": null, "labels": true}}, "y": {"field": "value", "type": "quantitative"}, "detail": {"field": "measure"}}},
                {"mark": {"type": "point", "shape": "square", "size": 90, "filled": true, "fill": "#f5f5f5", "stroke": "#4d4d4d", "strokeWidth": 1.5, "opacity": 1}, "transform": [{"filter": "datum.measure === 'Bias'"}], "encoding": {"x": {"field": "dose", "type": "ordinal"}, "y": {"field": "value", "type": "quantitative"}}},
                {"mark": {"type": "point", "shape": "circle", "size": 90, "filled": true, "fill": "#f5f5f5", "stroke": "#4d4d4d", "strokeWidth": 1.5, "opacity": 1}, "transform": [{"filter": "datum.measure === 'Sensitivity'"}], "encoding": {"x": {"field": "dose", "type": "ordinal"}, "y": {"field": "value", "type": "quantitative"}}},
                {"mark": {"type": "text", "fontSize": 20, "color": "#4d4d4d", "dx": -28, "align": "center", "baseline": "alphabetic"}, "transform": [{"filter": "datum.measure === 'Sensitivity' && datum.dose === '0.3'"}], "encoding": {"x": {"field": "dose", "type": "ordinal"}, "y": {"datum": 1.15}, "text": {"field": "panel"}}}
              ]
            }
          ]
        },
        {
          "spacing": 12, "bounds": "flush",
          "resolve": {"scale": {"shape": "independent"}, "legend": {"shape": "independent"}},
          "hconcat": [
            {
              "width": 46, "height": 155, "data": {"name": "sdt"},
              "transform": [{"filter": "datum.panel === 'GROUP' && datum.dose === 'SAL'"}],
              "layer": [
                {"mark": {"type": "rule", "strokeDash": [4, 3], "color": "#3a3a3a", "strokeWidth": 1.3}, "encoding": {"y": {"datum": 0, "type": "quantitative", "scale": {"domain": [-0.5, 1.5], "nice": false, "zero": false}, "axis": {"values": [-0.5, 0, 0.5, 1, 1.5], "tickCount": 10, "title": null, "labels": false}}}},
                {"mark": {"type": "errorbar", "ticks": {"size": 8}, "color": "#4d4d4d", "thickness": 1.5}, "transform": [{"filter": "datum.err != null"}], "encoding": {"x": {"field": "dose", "type": "ordinal", "scale": {"type": "point", "domain": ["SAL"]}, "axis": {"title": null, "labels": true}}, "y": {"field": "value", "type": "quantitative"}, "yError": {"field": "err"}}},
                {"mark": {"type": "point", "shape": "square", "size": 90, "filled": true, "fill": "#f5f5f5", "stroke": "#4d4d4d", "strokeWidth": 1.5, "opacity": 1}, "transform": [{"filter": "datum.measure === 'Bias'"}], "encoding": {"x": {"field": "dose", "type": "ordinal"}, "y": {"field": "value", "type": "quantitative"}}},
                {"mark": {"type": "point", "shape": "circle", "size": 90, "filled": true, "fill": "#f5f5f5", "stroke": "#4d4d4d", "strokeWidth": 1.5, "opacity": 1}, "transform": [{"filter": "datum.measure === 'Sensitivity'"}], "encoding": {"x": {"field": "dose", "type": "ordinal"}, "y": {"field": "value", "type": "quantitative"}}}
              ]
            },
            {
              "width": 178, "height": 155, "data": {"name": "sdt"},
              "transform": [{"filter": "datum.panel === 'GROUP' && datum.dose !== 'SAL'"}],
              "layer": [
                {"mark": {"type": "rule", "strokeDash": [4, 3], "color": "#3a3a3a", "strokeWidth": 1.3}, "encoding": {"y": {"datum": 0, "type": "quantitative", "scale": {"domain": [-0.5, 1.5], "nice": false, "zero": false}, "axis": null}}},
                {"mark": {"type": "line", "color": "#4d4d4d", "strokeWidth": 1.4}, "encoding": {"x": {"field": "dose", "type": "ordinal", "scale": {"type": "point", "domain": ["0.03", "0.1", "0.18", "0.3"], "padding": 0.245, "align": 1}, "axis": {"title": null, "labels": true}}, "y": {"field": "value", "type": "quantitative"}, "detail": {"field": "measure"}}},
                {"mark": {"type": "errorbar", "ticks": {"size": 8}, "color": "#4d4d4d", "thickness": 1.5}, "transform": [{"filter": "datum.err != null"}], "encoding": {"x": {"field": "dose", "type": "ordinal"}, "y": {"field": "value", "type": "quantitative"}, "yError": {"field": "err"}}},
                {"mark": {"type": "point", "shape": "square", "size": 90, "filled": true, "fill": "#f5f5f5", "stroke": "#4d4d4d", "strokeWidth": 1.5, "opacity": 1}, "transform": [{"filter": "datum.measure === 'Bias'"}], "encoding": {"x": {"field": "dose", "type": "ordinal"}, "y": {"field": "value", "type": "quantitative"}}},
                {"mark": {"type": "point", "shape": "circle", "size": 90, "filled": true, "fill": "#f5f5f5", "stroke": "#4d4d4d", "strokeWidth": 1.5, "opacity": 1}, "transform": [{"filter": "datum.measure === 'Sensitivity'"}], "encoding": {"x": {"field": "dose", "type": "ordinal"}, "y": {"field": "value", "type": "quantitative"}}},
                {"mark": {"type": "point", "filled": false, "color": "#4d4d4d", "stroke": "#4d4d4d", "strokeWidth": 1.5}, "transform": [{"filter": "datum.value > 99"}], "encoding": {"x": {"field": "dose", "type": "ordinal"}, "y": {"field": "value", "type": "quantitative"}, "shape": {"field": "measure", "type": "nominal", "scale": {"domain": ["Sensitivity", "Bias"], "range": ["M-1.9,0H-1M1,0H1.9M1,0A1,1,0,1,1,-1,0A1,1,0,1,1,1,0Z", "M-1.9,0H-1M1,0H1.9M-1,-1H1V1H-1Z"]}, "legend": {"orient": "none", "legendX": -8, "legendY": 4, "title": null, "symbolSize": 100, "symbolStrokeWidth": 1.5, "symbolStrokeColor": "#4d4d4d", "labelFontSize": 14, "labelColor": "#4d4d4d", "labelOffset": 12, "rowPadding": 2, "padding": 0}}}},
                {"mark": {"type": "text", "fontSize": 22, "color": "#4d4d4d", "dx": -31, "align": "center", "baseline": "alphabetic"}, "transform": [{"filter": "datum.measure === 'Sensitivity' && datum.dose === '0.3'"}], "encoding": {"x": {"field": "dose", "type": "ordinal"}, "y": {"datum": 1.24}, "text": {"field": "panel"}}}
              ]
            }
          ]
        }
      ]
    }
  ]
}
